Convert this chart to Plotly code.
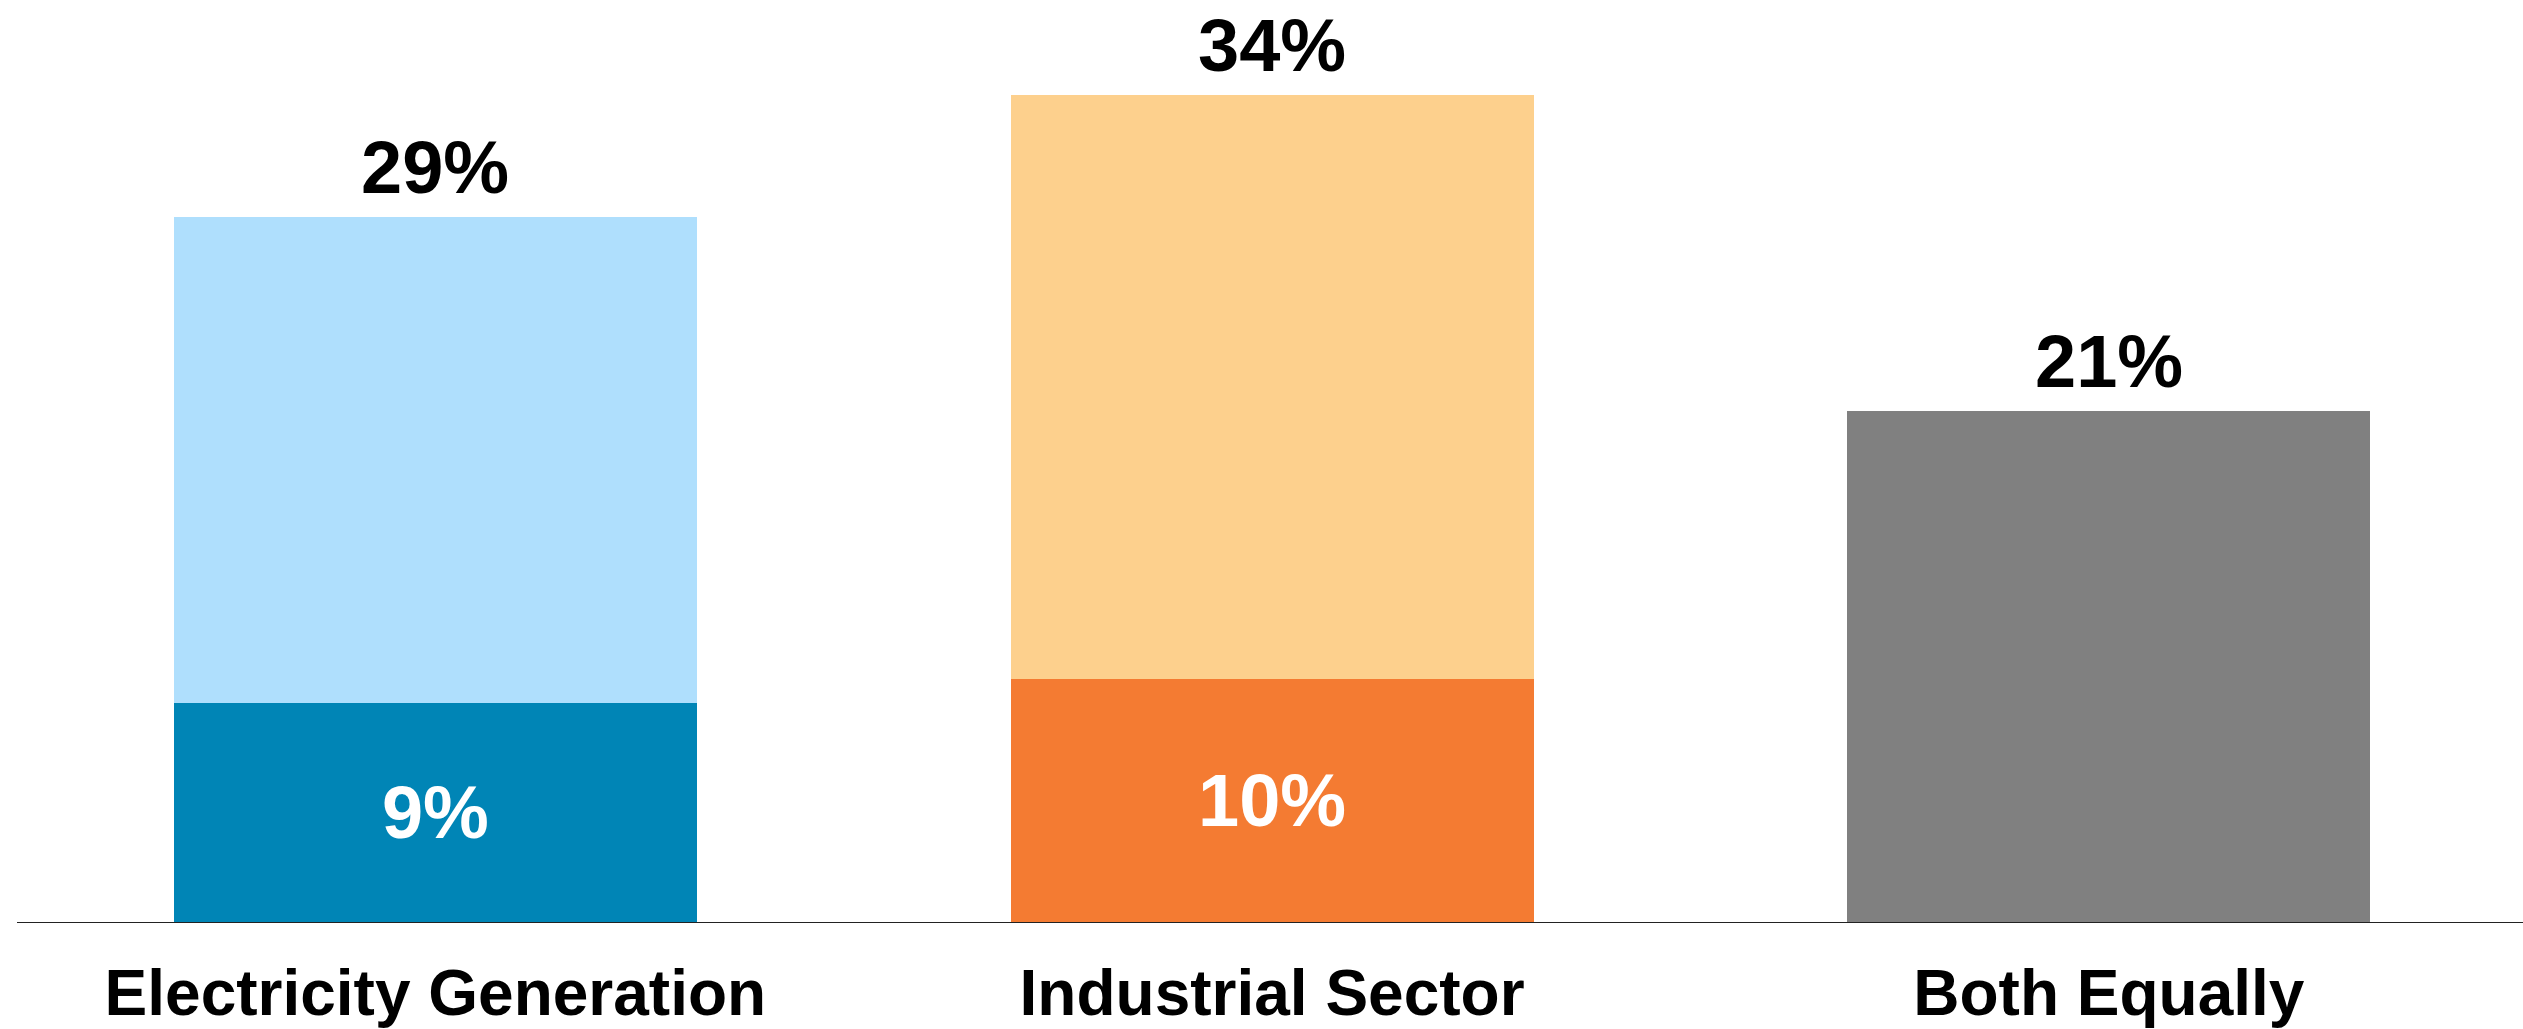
import plotly.graph_objects as go

# Survey shares (%) by sector
categories = ["Electricity Generation", "Industrial Sector", "Both Equally"]
totals = [29, 34, 21]           # overall share shown above each bar
strong_share = [9, 10, 21]      # lower (darker) segment of each bar
lower_labels = ["9%", "10%", ""]

lower_colors = ["#0085B6", "#F47B32", "#808080"]
upper_colors = ["#AFDFFD", "#FDD08D", "#808080"]

upper_share = [t - s for t, s in zip(totals, strong_share)]

FONT = "Liberation Sans, Arial, sans-serif"

fig = go.Figure()
fig.add_trace(go.Bar(
    x=categories, y=strong_share,
    marker=dict(color=lower_colors, line=dict(width=0)),
    width=0.625,
    text=lower_labels, textposition="inside", insidetextanchor="middle",
    textfont=dict(family=FONT, size=74, color="white", weight="bold"),
    constraintext="none", textangle=0,
    hoverinfo="skip",
))
fig.add_trace(go.Bar(
    x=categories, y=upper_share,
    marker=dict(color=upper_colors, line=dict(width=0)),
    width=0.625,
    hoverinfo="skip",
))

for cat, tot in zip(categories, totals):
    fig.add_annotation(
        x=cat, y=tot, text=f"<b>{tot}%</b>", showarrow=False,
        yanchor="bottom", yshift=6,
        font=dict(family=FONT, size=74, color="black"),
    )

fig.update_layout(
    barmode="stack",
    width=2523, height=1029,
    margin=dict(l=17, r=0, t=0, b=107),
    paper_bgcolor="white", plot_bgcolor="white",
    showlegend=False,
    xaxis=dict(
        range=[-0.5, 2.495], automargin=False,
        showline=True, linecolor="#222222", linewidth=1,
        ticks="outside", ticklen=15, tickcolor="rgba(0,0,0,0)",
        tickfont=dict(family=FONT, size=64, color="black", weight="bold"),
        showgrid=False, zeroline=False,
    ),
    yaxis=dict(
        range=[0, 37.9], visible=False, showgrid=False, zeroline=False,
        automargin=False,
    ),
)

fig.write_html("out.html")
